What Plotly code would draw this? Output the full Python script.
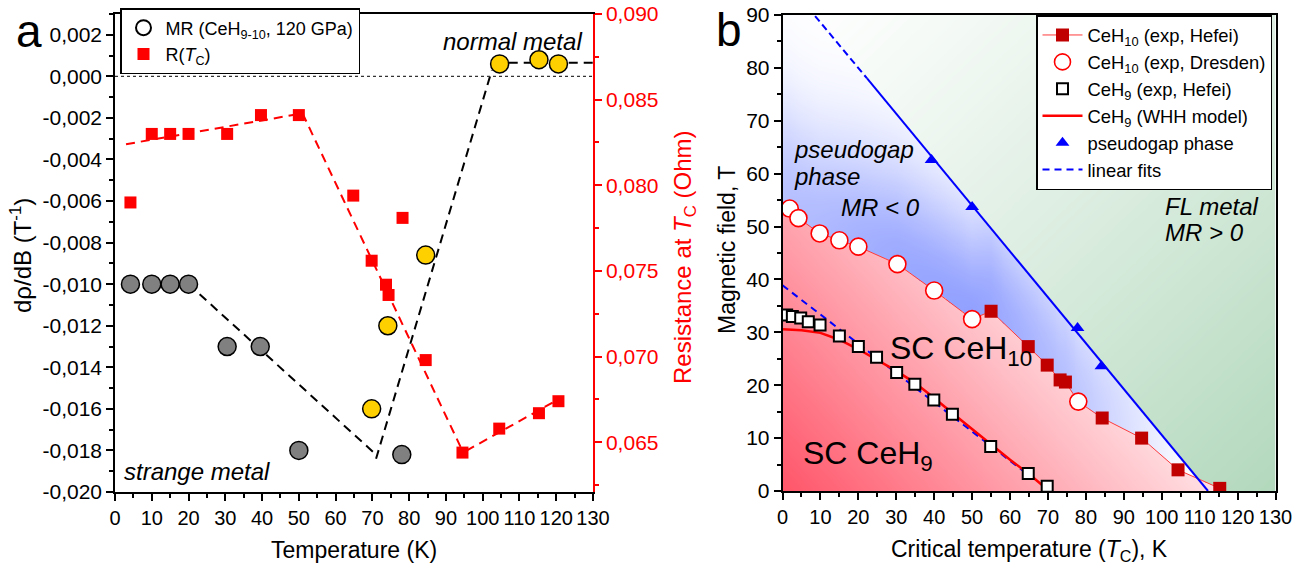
import numpy as np
import plotly.graph_objects as go

FONT = "Liberation Sans, Arial, Helvetica, sans-serif"

# ---------------- Panel a data ----------------
mr_gray_T = [4.2, 10.0, 15.0, 20.0, 30.5, 39.5, 50.0, 78.0]
mr_gray_v = [-0.0100, -0.0100, -0.0100, -0.0100, -0.0130, -0.0130, -0.0180, -0.0182]
mr_yellow_T = [69.8, 74.2, 84.5, 104.6, 115.3, 120.6]
mr_yellow_v = [-0.0160, -0.0120, -0.0086, 0.0006, 0.0008, 0.0006]
rtc_T = [4.2, 10.0, 15.0, 20.0, 30.5, 39.7, 50.0, 64.8, 69.8, 73.7, 74.4, 78.2,
         84.5, 94.5, 104.5, 115.3, 120.6]
rtc_R = [0.0790, 0.0830, 0.0830, 0.0830, 0.0830, 0.0841, 0.0841, 0.0794, 0.0756,
         0.0742, 0.0736, 0.0781, 0.0698, 0.0644, 0.0658, 0.0667, 0.0674]
# black dashed fits (MR)
mr_fit1_T = [20.0, 71.0]
mr_fit1_v = [-0.0100, -0.0182]
mr_fit2_T = [71.0, 102.5]
mr_fit2_v = [-0.0184, 0.0003]
mr_fit3_T = [103.0, 130.0]
mr_fit3_v = [0.00065, 0.00065]
# red dashed fits (R)
r_fitA_T = [3.0, 51.0]
r_fitA_R = [0.0824, 0.0842]
r_fitB_T = [51.0, 94.5]
r_fitB_R = [0.0842, 0.0645]
r_fitC_T = [95.5, 120.5]
r_fitC_R = [0.0645, 0.0675]

a_x_ticks = list(range(0, 131, 10))
a_mr_ticks = [-0.020, -0.018, -0.016, -0.014, -0.012, -0.010, -0.008, -0.006,
              -0.004, -0.002, 0.000, 0.002]
a_r_ticks = [0.065, 0.070, 0.075, 0.080, 0.085, 0.090]

# ---------------- Panel b data ----------------
dres_T = [1.9, 4.2, 9.8, 15.0, 20.0, 30.3, 40.0, 50.0, 78.0]
dres_H = [53.4, 51.6, 48.7, 47.4, 46.2, 42.9, 37.9, 32.5, 16.9]
hef10_T = [55.0, 64.8, 69.8, 73.2, 74.6, 84.3, 94.7, 104.3, 115.3]
hef10_H = [34.0, 27.3, 23.8, 21.0, 20.6, 13.8, 10.0, 4.0, 0.5]
hef9_T = [1.1, 2.6, 4.8, 6.8, 9.9, 15.0, 20.0, 24.8, 30.1, 34.9, 39.9, 44.8, 54.9, 64.8, 69.8]
hef9_H = [33.3, 33.0, 32.7, 32.0, 31.4, 29.3, 27.3, 25.3, 22.4, 20.2, 17.2, 14.5, 8.4, 3.3, 0.9]
whh_T = [0, 5, 10, 15, 20, 25, 30, 35, 40, 45, 50, 55, 60, 65, 70.3]
whh_H = [30.6, 30.4, 29.9, 28.6, 26.8, 24.8, 22.7, 20.4, 17.6, 14.6, 11.7, 8.7, 5.9, 3.2, 0.0]
pg_T = [39.3, 50.0, 77.8, 84.1]
pg_H = [62.6, 53.7, 30.8, 23.6]
pg_fit_T = [8.6, 22.3, 112.2]
pg_fit_H = [89.8, 78.0, 0.0]
ceh9_fit_T = [0.0, 66.0]
ceh9_fit_H = [38.9, 2.4]

b_x_ticks = list(range(0, 131, 10))
b_y_ticks = list(range(0, 91, 10))


def comma(v):
    return f"{v:.3f}".replace(".", ",")


# ---------------- background phase regions (panel b) ----------------
gx = np.arange(0.125, 130, 0.25)
gy = np.arange(0.1, 90, 0.2)
X, Y = np.meshgrid(gx, gy)
ceh10 = sorted(zip(dres_T + hef10_T, dres_H + hef10_H))
c_T = np.array([p[0] for p in ceh10])
c_H = np.array([p[1] for p in ceh10])
bnd = np.interp(gx, c_T, c_H, left=c_H[0], right=0.0)[None, :]
slope = (pg_fit_T[-1] - pg_fit_T[0]) / (pg_fit_H[-1] - pg_fit_H[0])
line_x = pg_fit_T[0] + (Y - pg_fit_H[0]) * slope
pink = Y < bnd
green = (~pink) & (X > line_x)
blue = (~pink) & (~green)
t_pink = np.clip(X / 125 + Y / 100, 0, 1)
amp = np.interp(X, [0, 30, 50, 75, 90, 108], [0.65, 0.9, 1.0, 0.65, 0.35, 0.0])
s_blue = np.clip(amp * np.exp(-((Y - bnd) / 20.0) ** 2), 0, 1)
g_green = np.clip((X / 130 + 1 - Y / 90) / 2, 0, 1) ** 1.15
Z = np.where(pink, t_pink * 0.9999,
             np.where(blue, 1.0002 + s_blue * 0.9996, 2.0001 + g_green * 0.9999)).astype(np.float32)
cscale = [[0.0, "rgb(255,85,105)"], [0.3333, "rgb(255,236,238)"],
          [0.33335, "rgb(255,255,255)"], [0.6666, "rgb(145,160,255)"],
          [0.66668, "rgb(255,255,255)"], [1.0, "rgb(178,216,188)"]]

fig = go.Figure()

# ---------- panel a traces ----------
dash = "9px,6px"
for tx, ry in [(r_fitA_T, r_fitA_R), (r_fitB_T, r_fitB_R), (r_fitC_T, r_fitC_R)]:
    fig.add_trace(go.Scatter(x=tx, y=ry, mode="lines", xaxis="x", yaxis="y",
                             line=dict(color="#ff0000", width=2, dash=dash),
                             showlegend=False, hoverinfo="skip"))
fig.add_trace(go.Scatter(x=rtc_T, y=rtc_R, mode="markers", xaxis="x", yaxis="y",
                         marker=dict(symbol="square", size=12, color="#ff0000"),
                         name="R(<i>T</i><sub>C</sub>)", legend="legend", legendrank=2))
for tx, vy in [(mr_fit1_T, mr_fit1_v), (mr_fit2_T, mr_fit2_v), (mr_fit3_T, mr_fit3_v)]:
    fig.add_trace(go.Scatter(x=tx, y=vy, mode="lines", xaxis="x", yaxis="y2",
                             line=dict(color="black", width=2, dash=dash),
                             showlegend=False, hoverinfo="skip"))
fig.add_trace(go.Scatter(x=mr_gray_T, y=mr_gray_v, mode="markers", xaxis="x", yaxis="y2",
                         marker=dict(size=18, color="#808080", line=dict(color="black", width=1.5)),
                         showlegend=False))
fig.add_trace(go.Scatter(x=mr_yellow_T, y=mr_yellow_v, mode="markers", xaxis="x", yaxis="y2",
                         marker=dict(size=18, color="#ffd000", line=dict(color="black", width=1.5)),
                         showlegend=False))
fig.add_trace(go.Scatter(x=[None], y=[None], mode="markers", xaxis="x", yaxis="y2",
                         marker=dict(symbol="circle-open", size=15, color="black", line=dict(width=2)),
                         name="MR (CeH<sub>9-10</sub>, 120 GPa)", legend="legend", legendrank=1))

# ---------- panel b traces ----------
fig.add_trace(go.Heatmap(x=gx, y=gy, z=Z, colorscale=cscale, zmin=0, zmax=3, showscale=False,
                         zsmooth=False, hoverinfo="skip", xaxis="x2", yaxis="y3"))
fig.add_trace(go.Scatter(x=c_T, y=c_H, mode="lines", xaxis="x2", yaxis="y3",
                         line=dict(color="#ff3b3b", width=1), showlegend=False, hoverinfo="skip"))
fig.add_trace(go.Scatter(x=pg_fit_T[:2], y=pg_fit_H[:2], mode="lines", xaxis="x2", yaxis="y3",
                         line=dict(color="#0000ff", width=2, dash="7px,4px"), showlegend=False))
fig.add_trace(go.Scatter(x=pg_fit_T[1:], y=pg_fit_H[1:], mode="lines", xaxis="x2", yaxis="y3",
                         line=dict(color="#0000ff", width=2), showlegend=False))
fig.add_trace(go.Scatter(x=ceh9_fit_T, y=ceh9_fit_H, mode="lines", xaxis="x2", yaxis="y3",
                         line=dict(color="#0000ff", width=2, dash="7px,5px"),
                         name="linear fits", legend="legend2", legendrank=6))
fig.add_trace(go.Scatter(x=whh_T, y=whh_H, mode="lines", xaxis="x2", yaxis="y3",
                         line=dict(color="#ff0000", width=2.5),
                         name="CeH<sub>9</sub> (WHH model)", legend="legend2", legendrank=4))
fig.add_trace(go.Scatter(x=hef10_T, y=hef10_H, mode="markers", xaxis="x2", yaxis="y3",
                         marker=dict(symbol="square", size=13, color="#c00000"),
                         showlegend=False))
fig.add_trace(go.Scatter(x=[None], y=[None], mode="lines+markers", xaxis="x2", yaxis="y3",
                         marker=dict(symbol="square", size=13, color="#c00000"),
                         line=dict(color="#ff3b3b", width=1),
                         name="CeH<sub>10</sub> (exp, Hefei)", legend="legend2", legendrank=1))
fig.add_trace(go.Scatter(x=dres_T, y=dres_H, mode="markers", xaxis="x2", yaxis="y3",
                         marker=dict(size=17, color="white", line=dict(color="#ff0000", width=1.6)),
                         name="CeH<sub>10</sub> (exp, Dresden)", legend="legend2", legendrank=2))
fig.add_trace(go.Scatter(x=hef9_T, y=hef9_H, mode="markers", xaxis="x2", yaxis="y3",
                         marker=dict(symbol="square", size=11, color="white",
                                     line=dict(color="black", width=2)),
                         name="CeH<sub>9</sub> (exp, Hefei)", legend="legend2", legendrank=3))
fig.add_trace(go.Scatter(x=pg_T, y=pg_H, mode="markers", xaxis="x2", yaxis="y3",
                         marker=dict(symbol="triangle-up", size=12, color="#0000ff"),
                         name="pseudogap phase", legend="legend2", legendrank=5))

# ---------- axes ----------
W, H = 1314, 566
XTICK, YTICK = 20, 21
ax_common = dict(showgrid=False, zeroline=False, showline=True, linewidth=1.5,
                 ticks="outside", ticklen=7, tickwidth=1.5, automargin=False, tickangle=0)
minor_k = dict(ticks="outside", ticklen=4, tickwidth=1.5, tickcolor="black")
xfont = dict(family=FONT, size=XTICK, color="black")
yfont = dict(family=FONT, size=YTICK, color="black")

a_dom_x = [115 / W, 593 / W]
a_dom_y = [1 - 492 / H, 1 - 14 / H]
b_dom_x = [782.5 / W, 1275.5 / W]
b_dom_y = [1 - 491 / H, 1 - 15 / H]

fig.update_layout(
    width=W, height=H, margin=dict(l=0, r=0, t=0, b=0, autoexpand=False),
    paper_bgcolor="white", plot_bgcolor="white",
    font=dict(family=FONT, size=18, color="black"),
    xaxis=dict(domain=a_dom_x, range=[0, 130], anchor="y", tickvals=a_x_ticks,
               linecolor="black", tickcolor="black", mirror=True, tickfont=xfont,
               minor=dict(dtick=5, tick0=0, **minor_k), **ax_common),
    yaxis=dict(domain=a_dom_y, range=[0.0621, 0.090], anchor="x", side="right",
               tickvals=a_r_ticks, ticktext=[comma(v) for v in a_r_ticks],
               linecolor="#ff0000", tickcolor="#ff0000",
               tickfont=dict(family=FONT, size=YTICK, color="#ff0000"),
               minor=dict(dtick=0.0025, tick0=0.065, ticks="outside", ticklen=4,
                          tickwidth=1.5, tickcolor="#ff0000"), **ax_common),
    yaxis2=dict(range=[-0.020, 0.003], overlaying="y", anchor="x", side="left",
                tickvals=a_mr_ticks, ticktext=[comma(v) for v in a_mr_ticks],
                linecolor="black", tickcolor="black", tickfont=yfont,
                minor=dict(dtick=0.001, tick0=0, **minor_k), **ax_common),
    xaxis2=dict(domain=b_dom_x, range=[0, 130], anchor="y3", tickvals=b_x_ticks,
                linecolor="black", tickcolor="black", mirror=True, tickfont=xfont,
                minor=dict(dtick=5, tick0=0, **minor_k), **ax_common),
    yaxis3=dict(domain=b_dom_y, range=[0, 90], anchor="x2", tickvals=b_y_ticks,
                linecolor="black", tickcolor="black", mirror=True, tickfont=yfont,
                minor=dict(dtick=5, tick0=0, **minor_k), **ax_common),
    legend=dict(x=120 / W, y=1 - 8 / H, xanchor="left", yanchor="top",
                bgcolor="white", bordercolor="black", borderwidth=1.5, itemwidth=34,
                font=dict(family=FONT, size=18, color="black"), tracegroupgap=0),
    legend2=dict(x=1036 / W, y=1 - 15 / H, xanchor="left", yanchor="top",
                 bgcolor="white", bordercolor="black", borderwidth=1.5, itemwidth=40,
                 font=dict(family=FONT, size=18.4, color="black"), tracegroupgap=0),
)

# zero reference line (panel a)
fig.add_shape(type="line", xref="x", yref="y2", x0=0, x1=130, y0=0, y1=0,
              line=dict(color="#333333", width=1.3, dash="dot"))

ann = []
def txt(text, x, y, xref="paper", yref="paper", size=22, color="black", angle=0,
        xanchor="center", yanchor="middle"):
    ann.append(dict(text=text, x=x, y=y, xref=xref, yref=yref, showarrow=False,
                    font=dict(family=FONT, size=size, color=color), textangle=angle,
                    xanchor=xanchor, yanchor=yanchor))

# axis titles
txt("dρ/dB (T<sup>-1</sup>)", 21 / W, 1 - 256 / H, size=24, angle=-90)
txt("Resistance at <i>T</i><sub>C</sub> (Ohm)", 684 / W, 1 - 257 / H, size=24,
    color="#ff0000", angle=-90)
txt("Magnetic field, T", 727 / W, 1 - 250 / H, size=23, angle=-90)
txt("Temperature (K)", 354 / W, 1 - 550 / H, size=23)
txt("Critical temperature (<i>T</i><sub>C</sub>), K", 1029 / W, 1 - 550 / H, size=23)
# panel letters
txt("a", 29 / W, 1 - 31 / H, size=46)
txt("b", 729 / W, 1 - 30 / H, size=46)
# panel a labels
txt("<i>normal metal</i>", 108.2, 0.0017, xref="x", yref="y2", size=24)
txt("<i>strange metal</i>", 1.9, -0.0190, xref="x", yref="y2", size=24, xanchor="left")
# panel b labels
txt("<i>pseudogap</i>", 2.5, 64.6, xref="x2", yref="y3", size=24, xanchor="left")
txt("<i>phase</i>", 2.5, 59.5, xref="x2", yref="y3", size=24, xanchor="left")
txt("<i>MR &lt; 0</i>", 14.9, 53.6, xref="x2", yref="y3", size=24, xanchor="left")
txt("<i>FL metal</i>", 100.3, 53.8, xref="x2", yref="y3", size=24, xanchor="left")
txt("<i>MR &gt; 0</i>", 100.3, 48.9, xref="x2", yref="y3", size=24, xanchor="left")
txt("SC CeH<sub>10</sub>", 27.8, 26.5, xref="x2", yref="y3", size=32, xanchor="left")
txt("SC CeH<sub>9</sub>", 4.9, 6.8, xref="x2", yref="y3", size=32, xanchor="left")
fig.update_layout(annotations=ann)

fig.write_html("out.html")
